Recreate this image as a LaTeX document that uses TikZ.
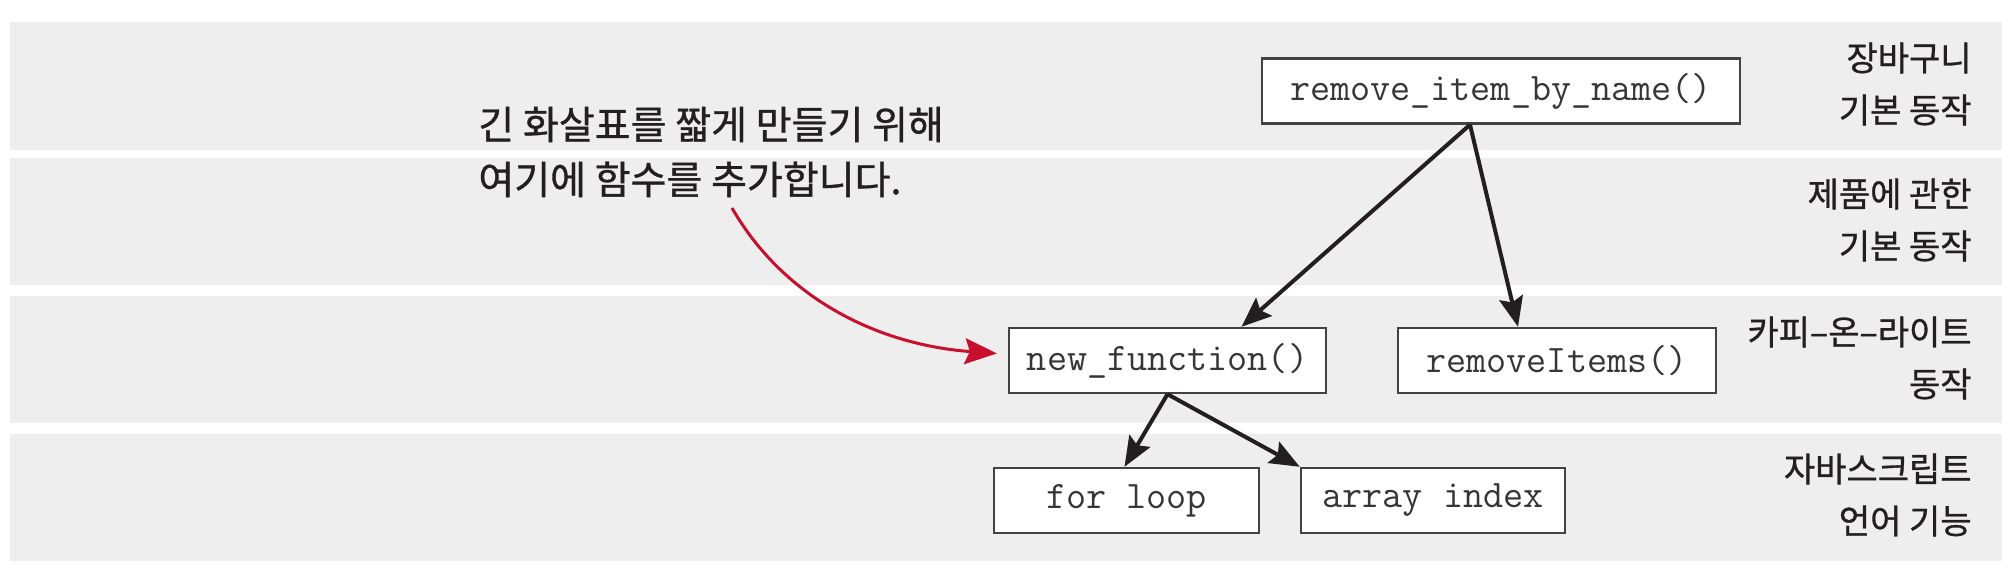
\documentclass[tikz,border=0pt]{standalone}
\usepackage{fontspec}
\newfontfamily\kr[FakeBold=0.9]{Noto Sans CJK KR}
\usetikzlibrary{arrows.meta}
\definecolor{bandgray}{HTML}{EEEEEE}
\definecolor{arrred}{HTML}{C8102E}
\definecolor{ink}{HTML}{231F20}
\begin{document}
\begin{tikzpicture}[x=0.5pt,y=-0.5pt,
 band/.style={fill=bandgray, draw=none},
 fn/.style={draw=ink!85, line width=1.2pt, fill=white, font=\ttfamily\fontsize{19.5}{22}\selectfont, text=ink!90, inner sep=0pt, minimum height=32.5pt},
 lbl/.style={font=\kr\fontsize{17}{26}\selectfont, align=right, anchor=east, text=ink, inner sep=0pt},
 link/.style={line width=2pt, draw=ink, -{Stealth[length=15pt,width=12pt,inset=2.5pt]}},
 note/.style={font=\kr\fontsize{19.5}{27.5}\selectfont, align=left, anchor=west, text=ink, inner sep=0pt}
]
\useasboundingbox (0,0) rectangle (2014,572);
% bands
\fill[band] (10,22) rectangle (2002,150);
\fill[band] (10,158) rectangle (2002,285);
\fill[band] (10,296) rectangle (2002,423);
\fill[band] (10,434) rectangle (2002,561);
% labels
\node[lbl] (l1) at (1972,84) {장바구니\\기본 동작};
\node[lbl] (l2) at (1972,220) {제품에 관한\\기본 동작};
\node[lbl] (l3) at (1972,358) {카피–온–라이트\\동작};
\node[lbl] (l4) at (1972,495) {자바스크립트\\언어 기능};
% function nodes
\node[fn, minimum width=239pt] (rin) at (1501,91) {remove\_item\_by\_name()};
\node[fn, minimum width=158.5pt] (nf) at (1167.5,360.5) {new\_function()};
\node[fn, minimum width=159pt] (ri) at (1557,360.5) {removeItems()};
\node[fn, minimum width=132.5pt] (fl) at (1126.5,500.5) {for loop};
\node[fn, minimum width=132pt] (ai) at (1433,500.5) {array index};
% connectors
\draw[link] ([xshift=-15.5pt]rin.south) -- ([xshift=37pt]nf.north);
\draw[link] ([xshift=-15.5pt]rin.south) -- ([xshift=-19.5pt]ri.north);
\draw[link] (nf.south) -- ([xshift=-1pt]fl.north);
\draw[link] (nf.south) -- (ai.north west);
% annotation
\node[note] (ann) at (478,152) {긴 화살표를 짧게 만들기 위해\\여기에 함수를 추가합니다.};
\coordinate (redstart) at (732,208);
\draw[arrred, line width=1.5pt, -{Stealth[length=16pt,width=13pt,inset=2.5pt]}] (redstart) .. controls (785,300) and (880,345) .. ([xshift=-5.5pt,yshift=3.5pt]nf.west);
\end{tikzpicture}
\end{document}
